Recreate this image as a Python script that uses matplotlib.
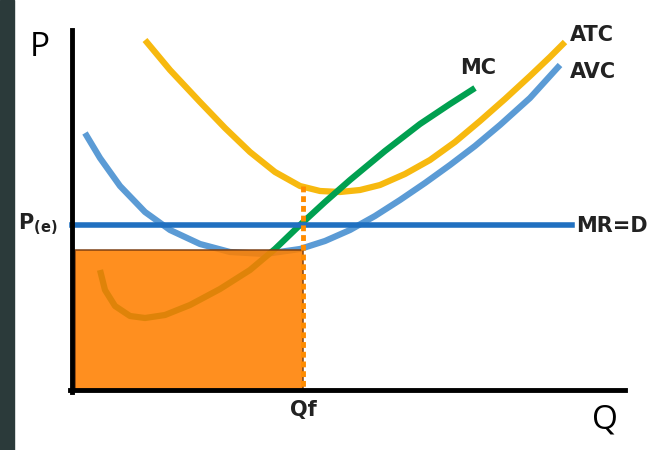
import matplotlib.pyplot as plt
from matplotlib.patches import Rectangle

# curve points (x, y in pixel-like units, y down)
atc_x = [145, 170, 200, 225, 250, 275, 300, 320, 340, 360, 380, 405, 430, 455, 480, 505, 530, 550, 565]
atc_y = [40, 70, 102, 128, 152, 172, 186, 191, 192, 190, 185, 174, 160, 142, 121, 99, 76, 57, 42]
avc_x = [85, 100, 120, 145, 170, 200, 230, 265, 300, 325, 350, 375, 400, 425, 450, 475, 500, 530, 560]
avc_y = [133, 158, 186, 212, 230, 244, 252, 254, 249, 241, 230, 216, 200, 183, 165, 146, 125, 98, 65]
mc_x = [100, 105, 115, 130, 145, 165, 190, 220, 250, 275, 300, 325, 350, 385, 420, 450, 475]
mc_y = [270, 290, 306, 316, 318, 315, 305, 289, 270, 249, 225, 202, 180, 151, 124, 104, 88]
mr_level = 225
qf = 303
atc_min = 186
avc_at_qf = 250

fig = plt.figure(figsize=(6.62, 4.5), dpi=100)
ax = fig.add_axes([0, 0, 1, 1])
ax.set_xlim(0, 662)
ax.set_ylim(450, 0)
ax.axis('off')

# dark strip on the left edge
ax.add_patch(Rectangle((0, 0), 14, 450, color='#2b3a3a', zorder=0))

ax.plot(atc_x, atc_y, color='#f7b90f', lw=4.5, solid_capstyle='butt', zorder=3)
ax.plot(avc_x, avc_y, color='#5b9bd5', lw=4.5, solid_capstyle='butt', zorder=3)
ax.plot(mc_x, mc_y, color='#00a050', lw=4.5, solid_capstyle='butt', zorder=3)
ax.plot([72, 572], [mr_level, mr_level], color='#2070c0', lw=4, zorder=3)

ax.add_patch(Rectangle((75, avc_at_qf), qf - 75, 390 - avc_at_qf, facecolor='#ff8000',
                       edgecolor='#7a3c10', lw=1.2, alpha=0.88, zorder=4))
ax.plot([qf, qf], [atc_min, 390], color='#ff8c00', lw=3.5, ls=(0, (1.2, 0.8)), zorder=5)

# axes
ax.plot([72, 72], [30, 392], color='black', lw=3.5, zorder=6)
ax.plot([70, 625], [390, 390], color='black', lw=3.5, zorder=6)

ax.text(40, 48, 'P', fontsize=24, ha='center', va='center', family='Open Sans')
ax.text(605, 420, 'Q', fontsize=24, ha='center', va='center', family='Open Sans')
ax.text(478, 68, 'MC', fontsize=15, fontweight='bold', ha='center', va='center', color='#222222')
ax.text(570, 35, 'ATC', fontsize=15, fontweight='bold', ha='left', va='center', color='#222222')
ax.text(570, 72, 'AVC', fontsize=15, fontweight='bold', ha='left', va='center', color='#222222')
ax.text(576, 226, 'MR=D', fontsize=15, fontweight='bold', ha='left', va='center', color='#222222')
ax.text(38, 224, r'P$_{\mathbf{(e)}}$', fontsize=15, fontweight='bold', ha='center', va='center', color='#222222')
ax.text(qf, 410, 'Qf', fontsize=15, fontweight='bold', ha='center', va='center', color='#222222')

fig.savefig('out.png', dpi=100)
